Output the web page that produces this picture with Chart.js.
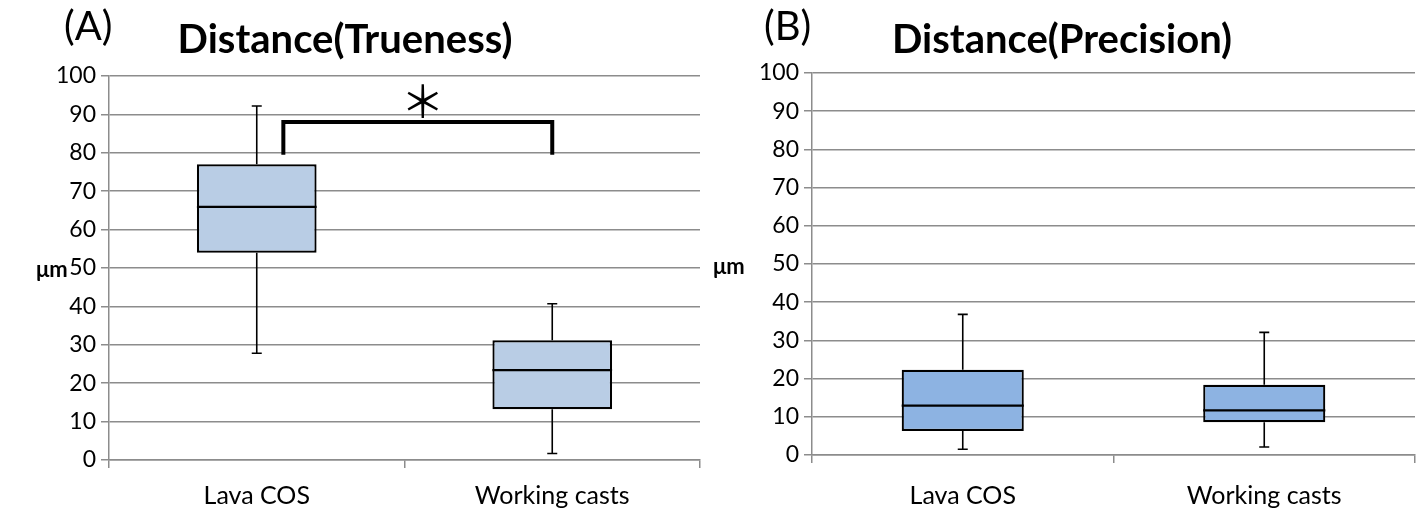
<!DOCTYPE html>
<html>
<head>
<meta charset="utf-8">
<script src="https://cdn.jsdelivr.net/npm/chart.js@4.4.1/dist/chart.umd.min.js"></script>
<style>
  body { margin: 0; background: #fff; width: 1417px; height: 510px; position: relative; overflow: hidden; font-family: Lato, "Open Sans", sans-serif; }
  .panel { position: absolute; top: 0; height: 510px; }
  .tag { position: absolute; font-size: 40px; color: #000; line-height: 1; }
  .ttl { position: absolute; font-size: 40px; font-weight: bold; color: #000; line-height: 1; transform: translateX(-50%); white-space: nowrap; }
  .unit { position: absolute; font-size: 22px; font-weight: bold; color: #000; line-height: 1; }
</style>
</head>
<body>
<div class="panel" style="left:0;width:705px"><canvas id="chartA" width="705" height="510"></canvas></div>
<div class="panel" style="left:705px;width:712px"><canvas id="chartB" width="712" height="510"></canvas></div>
<div class="tag" style="left:64px;top:5px">(A)</div>
<div class="ttl" style="left:345px;top:18px">Distance(Trueness)</div>
<div class="unit" style="left:36px;top:258px">μm</div>
<div class="tag" style="left:764px;top:5px">(B)</div>
<div class="ttl" style="left:1062px;top:18px">Distance(Precision)</div>
<div class="unit" style="left:713px;top:255px">μm</div>
<script>
// categories and box plot values (µm)
var categories = ['Lava COS', 'Working casts'];

var truenessMin = [27.8, 1.7];
var truenessQ1 = [54.0, 13.2];
var truenessMedian = [65.9, 23.4];
var truenessQ3 = [77.0, 31.2];
var truenessMax = [92.2, 40.7];

var precisionMin = [1.5, 2.1];
var precisionQ1 = [6.3, 8.6];
var precisionMedian = [12.9, 11.7];
var precisionQ3 = [22.3, 18.4];
var precisionMax = [36.8, 32.1];

// significance bracket for panel A: from / to category positions, low / high values
var sigFrom = 0.09, sigTo = 1, sigLow = 79.5, sigHigh = 88;
var yTicks = [0, 100, 10];

var gridGray = '#8c8c8c';

// whiskers and medians on top of the floating bars
var boxPlugin = {
    id: 'boxParts',
    afterDatasetsDraw: function (chart) {
        var o = chart.options.plugins.boxParts;
        if (!o) return;
        var ctx = chart.ctx;
        var x = chart.scales.x, y = chart.scales.y;
        var meta = chart.getDatasetMeta(0);
        ctx.save();
        ctx.strokeStyle = '#000';
        for (var i = 0; i < categories.length; i++) {
            var bar = meta.data[i];
            var cx = x.getPixelForValue(i);
            var half = bar.width / 2;
            // median
            ctx.lineWidth = 2.2;
            ctx.beginPath();
            ctx.moveTo(cx - half, y.getPixelForValue(o.median[i]));
            ctx.lineTo(cx + half, y.getPixelForValue(o.median[i]));
            ctx.stroke();
            // whiskers
            ctx.lineWidth = 1.6;
            ctx.beginPath();
            ctx.moveTo(cx, y.getPixelForValue(o.q3[i]));
            ctx.lineTo(cx, y.getPixelForValue(o.max[i]));
            ctx.moveTo(cx - 5, y.getPixelForValue(o.max[i]));
            ctx.lineTo(cx + 5, y.getPixelForValue(o.max[i]));
            ctx.moveTo(cx, y.getPixelForValue(o.q1[i]));
            ctx.lineTo(cx, y.getPixelForValue(o.min[i]));
            ctx.moveTo(cx - 5, y.getPixelForValue(o.min[i]));
            ctx.lineTo(cx + 5, y.getPixelForValue(o.min[i]));
            ctx.stroke();
        }
        if (o.bracket) {
            var b = o.bracket;
            var x1 = x.getPixelForValue(b.from), x2 = x.getPixelForValue(b.to);
            var yl = y.getPixelForValue(b.low), yh = y.getPixelForValue(b.high);
            ctx.lineWidth = 4;
            ctx.lineJoin = 'miter';
            ctx.beginPath();
            ctx.moveTo(x1, yl);
            ctx.lineTo(x1, yh);
            ctx.lineTo(x2, yh);
            ctx.lineTo(x2, yl);
            ctx.stroke();
            ctx.fillStyle = '#000';
            ctx.font = '44px "Noto Sans CJK JP"';
            ctx.textAlign = 'center';
            ctx.textBaseline = 'alphabetic';
            ctx.fillText('\uFF0A', (x1 + x2) / 2 + 5, yh - 4);
        }
        ctx.restore();
    }
};

function makeChart(id, q1, q3, parts, fill, padLeft, padTop, padRight, axisH, labelPad) {
    var boxes = [];
    for (var i = 0; i < categories.length; i++) boxes.push([q1[i], q3[i]]);
    return new Chart(document.getElementById(id).getContext('2d'), {
        type: 'bar',
        data: {
            labels: categories,
            datasets: [{
                data: boxes,
                backgroundColor: fill,
                borderColor: '#000',
                borderWidth: 2.2,
                borderSkipped: false,
                barPercentage: 0.405,
                categoryPercentage: 1.0
            }]
        },
        options: {
            responsive: false,
            animation: false,
            layout: { padding: { left: 0, top: padTop, right: padRight, bottom: 0 } },
            plugins: {
                legend: { display: false },
                tooltip: { enabled: false },
                boxParts: parts
            },
            scales: {
                x: {
                    grid: { drawOnChartArea: false, color: gridGray, lineWidth: 1.5, tickLength: 8 },
                    border: { color: gridGray, width: 1.5 },
                    ticks: { color: '#000', font: { family: 'Lato', size: 25 }, padding: labelPad },
                    afterFit: function (s) { s.height = axisH; }
                },
                y: {
                    min: yTicks[0], max: yTicks[1],
                    ticks: { stepSize: yTicks[2], color: '#000', font: { family: 'Lato', size: 23 }, padding: 5 },
                    grid: { color: gridGray, lineWidth: 1.5, tickLength: 8 },
                    border: { color: gridGray, width: 1.5 },
                    afterFit: function (s) { s.width = padLeft; }
                }
            }
        },
        plugins: [boxPlugin]
    });
}

makeChart('chartA', truenessQ1, truenessQ3, {
    min: truenessMin, q1: truenessQ1, median: truenessMedian, q3: truenessQ3, max: truenessMax,
    bracket: { from: sigFrom, to: sigTo, low: sigLow, high: sigHigh }
}, '#b9cde5', 109, 76, 5, 50, 13);

makeChart('chartB', precisionQ1, precisionQ3, {
    min: precisionMin, q1: precisionQ1, median: precisionMedian, q3: precisionQ3, max: precisionMax
}, '#8db3e2', 107, 73, 2, 55, 18);
</script>
</body>
</html>
